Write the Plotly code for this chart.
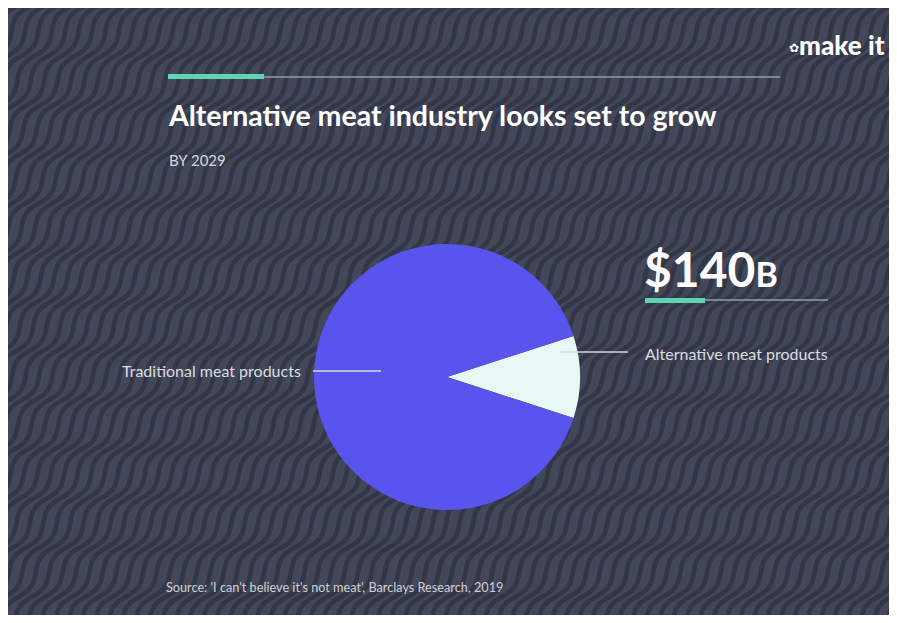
import math
import plotly.graph_objects as go

W, H = 881, 607      # figure size (page adds an 8px body margin)
OX, OY = 8, 8        # screen offset of figure origin

# Data (USD billions, 2029 projection)
labels = ["Alternative meat products", "Traditional meat products"]
values = [140, 1260]
colors = ["#e8f8f5", "#5a54ef"]
headline = "$140"
headline_unit = "B"

BG = "#42475a"
STRIPE = "#323647"


def px(x):
    return (x - OX) / W


def py(y):
    return 1 - (y - OY) / H


# wavy background pattern as a single path (decoration)
theta = math.radians(55)
dx, dy = math.cos(theta), -math.sin(theta)
nx, ny = math.sin(theta), math.cos(theta)
spacing = 11.0
amp = 4.5
wl = 60.0
parts = []
L = 1000
for k in range(-70, 160):
    off = k * spacing
    ox = -300 + off / math.sin(theta)
    oy = H + 80
    pts = []
    t = 0.0
    while t <= L:
        w = amp * math.sin(2 * math.pi * t / wl)
        pts.append((ox + dx * t + nx * w, oy + dy * t + ny * w))
        t += 5
    parts.append("M " + " L ".join(f"{a / W:.4f},{1 - b / H:.4f}" for a, b in pts))
pattern_path = " ".join(parts)

fig = go.Figure()
R = 133
fig.add_trace(go.Pie(
    labels=labels, values=values, sort=False, direction="clockwise",
    rotation=72, marker=dict(colors=colors, line=dict(width=0)),
    textinfo="none", hoverinfo="label+value", showlegend=False,
    domain=dict(x=[px(447 - R), px(447 + R)], y=[py(377 + R), py(377 - R)]),
))

GR = "#8f9fa3"
GN = "#62d4b6"
LL = "#d8d8dc"
shapes = [
    dict(type="path", path=pattern_path, xref="paper", yref="paper",
         line=dict(color=STRIPE, width=4.5), layer="below"),
    dict(type="line", x0=px(264), x1=px(780), y0=py(77), y1=py(77), line=dict(color=GR, width=1.5)),
    dict(type="line", x0=px(168), x1=px(264), y0=py(76.5), y1=py(76.5), line=dict(color=GN, width=5)),
    dict(type="line", x0=px(705), x1=px(828), y0=py(300), y1=py(300), line=dict(color=GR, width=1.3)),
    dict(type="line", x0=px(645), x1=px(705), y0=py(300.5), y1=py(300.5), line=dict(color=GN, width=5)),
    dict(type="line", x0=px(560), x1=px(628), y0=py(352), y1=py(352), line=dict(color=LL, width=1.3)),
    dict(type="line", x0=px(313), x1=px(381), y0=py(371), y1=py(371), line=dict(color=LL, width=1.3)),
]
for s in shapes[1:]:
    s.update(xref="paper", yref="paper")

FONT = "Lato"
ann = [
    dict(x=px(166), y=py(115), text="Alternative meat industry looks set to grow",
         font=dict(family=FONT, size=28.5, color="#ffffff", weight=700), xanchor="left", yanchor="middle"),
    dict(x=px(167), y=py(160), text="BY 2029",
         font=dict(family=FONT, size=15, color="#d6d6da"), xanchor="left", yanchor="middle"),
    dict(x=px(642), y=py(268),
         text=f"{headline}<span style='font-size:34px'>{headline_unit}</span>",
         font=dict(family=FONT, size=48, color="#ffffff", weight=700), xanchor="left", yanchor="middle"),
    dict(x=px(643), y=py(353), text=labels[0],
         font=dict(family=FONT, size=16, color="#dcdce0"), xanchor="left", yanchor="middle"),
    dict(x=px(303), y=py(370), text=labels[1],
         font=dict(family=FONT, size=16, color="#dcdce0"), xanchor="right", yanchor="middle"),
    dict(x=px(164), y=py(587), text="Source: 'I can't believe it's not meat', Barclays Research, 2019",
         font=dict(family=FONT, size=12.7, color="#d0d0d4"), xanchor="left", yanchor="middle"),
    dict(x=px(887), y=py(45), text="make it",
         font=dict(family=FONT, size=26, color="#ffffff", weight=900), xanchor="right", yanchor="middle"),
    dict(x=px(801), y=py(48), text="✿",
         font=dict(family="DejaVu Sans", size=12, color="#ffffff"), xanchor="right", yanchor="middle"),
]
for a in ann:
    a.update(xref="paper", yref="paper", showarrow=False)

fig.update_layout(
    width=W, height=H, margin=dict(l=0, r=0, t=0, b=0),
    paper_bgcolor=BG, plot_bgcolor=BG,
    shapes=shapes, annotations=ann,
)
fig.write_html("out.html")
